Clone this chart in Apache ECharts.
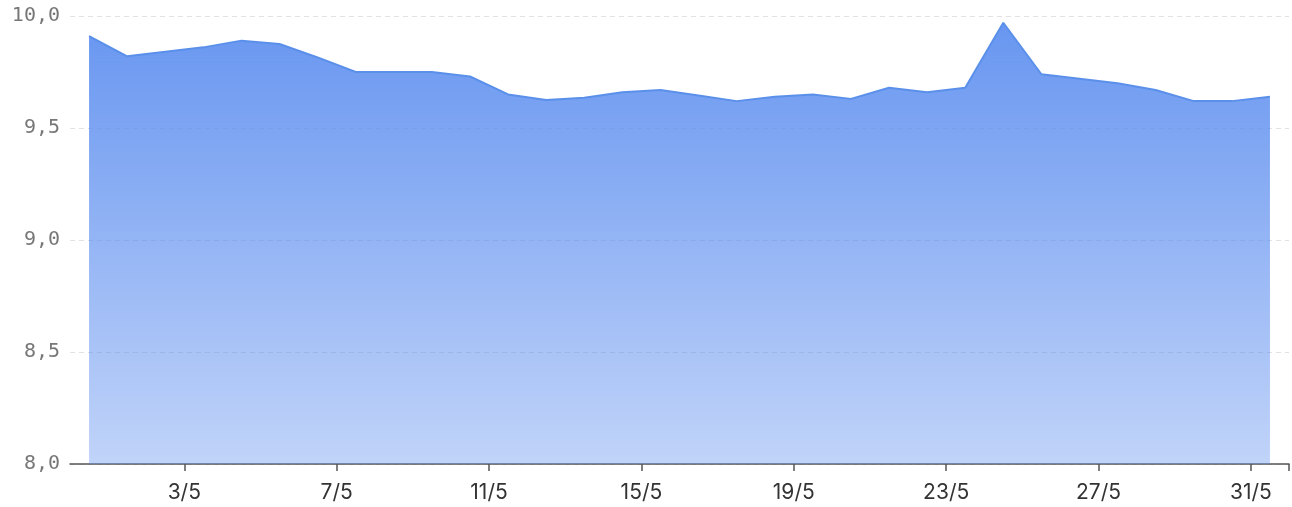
<!DOCTYPE html>
<html>
<head>
<meta charset="utf-8">
<script src="https://cdn.jsdelivr.net/npm/echarts@6/dist/echarts.min.js"></script>
<style>
html,body{margin:0;padding:0;background:#fff;}
#chart{width:1292px;height:507px;}
</style>
</head>
<body>
<div id="chart"></div>
<script>
// x positions of the samples, in days of May (label d/5 sits at x = d)
const dayPositions = [0.5, 1.5, 2.5, 3.5, 4.5, 5.5, 6.5, 7.5, 8.5, 9.5, 10.5, 11.5, 12.5, 13.5, 14.5, 15.5,
                      16.5, 17.5, 18.5, 19.5, 20.5, 21.5, 22.5, 23.5, 24.5, 25.5, 26.5, 27.5, 28.5, 29.5, 30.5, 31.5];
const values = [9.91, 9.82, 9.84, 9.86, 9.89, 9.875, 9.815, 9.75, 9.75, 9.75, 9.73, 9.65, 9.625, 9.635, 9.66, 9.67,
                9.645, 9.62, 9.64, 9.65, 9.63, 9.68, 9.66, 9.68, 9.97, 9.74, 9.72, 9.70, 9.67, 9.62, 9.62, 9.64];
const xLabelDays = [3, 7, 11, 15, 19, 23, 27, 31];
const xTickDays = [3, 7, 11, 15, 19, 23, 27, 31, 32];
const yTicks = [8.0, 8.5, 9.0, 9.5, 10.0];

const seriesData = dayPositions.map((d, i) => [d, values[i]]);

const chart = echarts.init(document.getElementById('chart'));
chart.setOption({
  animation: false,
  grid: { left: 70, right: 3, top: 16, bottom: 43 },
  xAxis: {
    type: 'value',
    min: 0,
    max: 32,
    axisLine: { show: true, lineStyle: { color: '#555', width: 1.5 } },
    axisTick: { show: true, length: 7, customValues: xTickDays, lineStyle: { color: '#555', width: 1.5 } },
    axisLabel: {
      customValues: xLabelDays,
      formatter: v => v + '/5',
      color: '#333',
      fontFamily: 'Inter',
      fontSize: 21,
      margin: 18
    },
    splitLine: { show: false }
  },
  yAxis: {
    type: 'value',
    min: yTicks[0],
    max: yTicks[yTicks.length - 1],
    interval: 0.5,
    axisLine: { show: false },
    axisTick: { show: false },
    axisLabel: {
      formatter: v => v.toFixed(1).replace('.', ','),
      color: '#777',
      fontFamily: 'DejaVu Sans Mono',
      fontSize: 20,
      margin: 10
    },
    splitLine: { show: true, lineStyle: { color: '#e2e2e2', type: [5, 4], width: 1 } }
  },
  series: [{
    type: 'line',
    data: seriesData,
    showSymbol: false,
    smooth: false,
    lineStyle: { color: '#5b90ea', width: 2 },
    areaStyle: {
      opacity: 1,
      color: new echarts.graphic.LinearGradient(0, 0, 0, 1, [
        { offset: 0, color: 'rgba(91,141,239,0.92)' },
        { offset: 1, color: 'rgba(91,141,239,0.38)' }
      ])
    }
  }]
});
</script>
</body>
</html>
